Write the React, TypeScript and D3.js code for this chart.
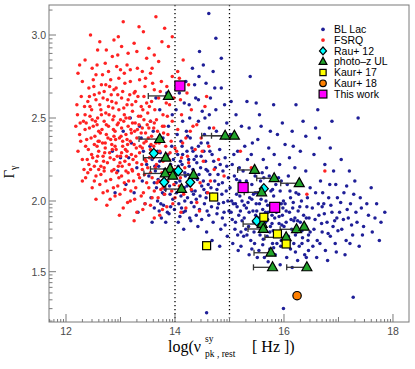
import React from 'react';
import * as d3 from 'd3';

// ---------- data (x = log nu_pk, y = Gamma) ----------
const fsrq: [number, number][] = [
  [13.05,3.08],[13.42,3.02],[12.88,2.97],[13.65,3.11],[12.62,2.96],[13.25,2.95],[13.95,2.99],[12.45,3.00],
  [12.35,2.85],[12.58,2.91],[12.72,2.83],[12.95,2.88],[13.12,2.82],[13.30,2.90],[13.48,2.86],[13.70,2.84],[13.88,2.93],[12.48,2.80],[13.02,2.93],[13.58,2.80],[12.85,2.87],[14.15,2.85],[12.25,2.82],
  [12.30,2.72],[12.42,2.68],[12.55,2.76],[12.65,2.70],[12.78,2.78],[12.88,2.67],[12.97,2.74],[13.08,2.71],[13.18,2.79],[13.27,2.66],[13.35,2.73],[13.45,2.69],[13.55,2.77],[13.62,2.67],[13.75,2.72],[13.85,2.69],[12.22,2.77],[12.70,2.66],[13.00,2.79],[13.40,2.78],[12.50,2.73],[13.95,2.75],[14.05,2.78],[14.25,2.70],[12.82,2.73],
  [12.20,2.58],[12.28,2.63],[12.35,2.52],[12.40,2.60],[12.47,2.55],[12.52,2.64],[12.58,2.50],[12.62,2.58],[12.68,2.62],[12.73,2.53],[12.78,2.57],[12.83,2.64],[12.88,2.51],[12.92,2.59],[12.97,2.55],[13.02,2.62],[13.07,2.52],[13.12,2.58],[13.17,2.64],[13.22,2.54],[13.28,2.60],[13.33,2.51],[13.38,2.57],[13.43,2.63],[13.50,2.53],[13.57,2.60],[13.63,2.55],[13.70,2.62],[13.78,2.52],[13.90,2.58],[14.10,2.61],[14.30,2.55],[12.55,2.61],[12.95,2.64],[13.25,2.65],[12.65,2.52],[13.48,2.59],[13.10,2.50],[12.44,2.51],[14.55,2.57],
  [12.18,2.45],[12.25,2.40],[12.32,2.48],[12.38,2.37],[12.43,2.44],[12.48,2.49],[12.53,2.39],[12.57,2.46],[12.61,2.36],[12.66,2.43],[12.70,2.48],[12.74,2.40],[12.78,2.45],[12.82,2.37],[12.86,2.49],[12.90,2.42],[12.94,2.46],[12.98,2.38],[13.02,2.44],[13.06,2.48],[13.10,2.40],[13.14,2.45],[13.18,2.36],[13.22,2.47],[13.26,2.42],[13.30,2.38],[13.34,2.46],[13.38,2.41],[13.43,2.49],[13.47,2.36],[13.52,2.44],[13.57,2.39],[13.62,2.47],[13.68,2.42],[13.74,2.37],[13.80,2.45],[13.87,2.40],[13.95,2.48],[14.05,2.43],[14.20,2.38],[12.60,2.42],[12.88,2.39],[13.00,2.49],[13.20,2.41],[13.40,2.44],[12.72,2.35],[13.55,2.48],[12.50,2.45],[13.12,2.37],[12.35,2.43],[14.40,2.46],[13.65,2.35],
  [12.22,2.30],[12.30,2.25],[12.36,2.33],[12.42,2.22],[12.47,2.28],[12.52,2.34],[12.56,2.24],[12.60,2.30],[12.64,2.21],[12.68,2.27],[12.72,2.32],[12.76,2.23],[12.80,2.29],[12.84,2.34],[12.88,2.25],[12.92,2.31],[12.96,2.21],[13.00,2.27],[13.04,2.33],[13.08,2.24],[13.12,2.30],[13.16,2.22],[13.20,2.28],[13.25,2.34],[13.30,2.23],[13.35,2.29],[13.40,2.32],[13.45,2.25],[13.50,2.20],[13.55,2.31],[13.60,2.26],[13.66,2.22],[13.72,2.30],[13.78,2.24],[13.85,2.28],[13.92,2.21],[14.00,2.32],[14.12,2.26],[14.25,2.23],[12.70,2.20],[13.02,2.29],[13.28,2.27],[12.58,2.27],[12.90,2.33],[14.50,2.30],
  [12.30,2.12],[12.40,2.17],[12.48,2.08],[12.55,2.15],[12.62,2.10],[12.70,2.18],[12.76,2.06],[12.82,2.13],[12.88,2.19],[12.95,2.09],[13.02,2.15],[13.08,2.07],[13.15,2.12],[13.22,2.18],[13.28,2.08],[13.35,2.14],[13.42,2.05],[13.48,2.11],[13.55,2.17],[13.62,2.06],[13.70,2.12],[13.78,2.08],[13.88,2.16],[13.98,2.10],[14.10,2.14],[14.30,2.07],[12.60,2.19],[13.10,2.18],[13.40,2.19],[14.65,2.12],
  [12.55,2.01],[12.75,1.97],[12.90,2.03],[13.05,1.95],[13.18,2.00],[13.30,1.92],[13.45,1.98],[13.58,2.02],[13.72,1.90],[13.85,1.96],[14.00,2.02],[13.25,1.86],[13.62,1.88],[12.98,1.90],[14.20,1.95],
  [14.80,2.25],[15.00,2.38],[14.60,2.05],[15.40,2.20],[14.90,2.15],[16.42,2.04],[15.20,2.30],[14.72,2.19],[14.40,1.99],[14.45,1.93],[16.75,2.18],
  [12.63,2.41],[12.71,2.29],[12.79,2.52],[12.84,2.18],[12.91,2.37],[12.99,2.23],[13.06,2.56],[13.13,2.34],[13.21,2.19],[13.27,2.47],[13.36,2.33],[13.44,2.16],[13.51,2.38],[13.59,2.27],[12.67,2.35],[12.74,2.46],[12.81,2.26],[12.87,2.43],[12.93,2.17],[13.01,2.39],[13.09,2.31],[13.16,2.50],[13.23,2.25],[13.31,2.43],[13.39,2.22],[13.46,2.41],[13.53,2.26],[13.61,2.44],[13.67,2.29],[12.57,2.33],[12.52,2.21],[12.46,2.38],[12.41,2.31],[12.37,2.47],[12.33,2.19],[12.44,2.57],[12.54,2.48],[12.64,2.55],[12.76,2.61],[12.86,2.56],[12.96,2.47],[13.04,2.36],[13.11,2.27],[13.19,2.43],[13.29,2.32],[13.37,2.51],[13.43,2.35],[13.49,2.46],[13.56,2.34],[13.64,2.20],[13.71,2.35],[13.77,2.45],[13.83,2.33],[13.89,2.25],[13.76,2.17],[13.67,2.11],[13.58,2.14],[13.47,2.24],[13.33,2.16],[13.24,2.12],[13.14,2.17],[13.03,2.21],[12.94,2.27],[12.85,2.31],[12.77,2.38],[12.69,2.24],[12.59,2.36],[12.49,2.26],[12.39,2.25],[12.27,2.36],[12.21,2.52],[12.26,2.47],[12.34,2.57],[12.43,2.63],[12.51,2.69],[12.61,2.65],[12.73,2.70],[12.84,2.60],[12.92,2.68],[13.04,2.66],[13.14,2.61],[13.21,2.58],[13.32,2.63],[13.41,2.55],[13.53,2.57],[13.66,2.49],[13.79,2.41],[13.93,2.36],[14.03,2.30],[14.14,2.35],[13.99,2.19],[13.87,2.12],[13.81,2.04],[13.69,2.02],[13.52,2.08],[13.38,2.03],[13.19,2.06],[13.07,2.11],[12.97,2.14],[12.87,2.08],[12.73,2.12],[12.64,2.16],[12.52,2.12],[12.45,2.19],[12.36,2.14],[12.68,2.05],[12.81,2.01],[12.99,2.04],[13.13,1.99],[13.26,2.01],[13.41,1.94],[13.55,1.97],[13.77,1.94],[13.94,2.06],[14.08,2.09],[14.18,2.20],[14.35,2.16],[14.28,2.42],[14.12,2.52],[13.98,2.62],[13.84,2.59],[13.73,2.66],[13.59,2.71],[13.46,2.74],[13.31,2.80],[13.18,2.72],[13.07,2.77],[12.93,2.81],[12.80,2.69],[12.67,2.76],[12.57,2.82],[13.52,2.92],[13.76,2.96],[13.14,2.89],[12.96,2.99],[13.34,3.05],[13.81,3.04],[13.62,2.88],[12.74,2.91],
  [13.91,2.29],[14.04,2.17],[14.16,2.04],[14.23,2.27],[14.37,2.31],[14.46,2.11],[14.52,2.24],[13.96,1.98],[14.11,1.92],[14.27,2.12],[14.33,2.45],[14.48,2.38],[14.62,2.33],[14.71,2.44],[14.58,2.63],[14.22,2.65],[14.08,2.74],[13.74,2.07],[13.61,2.33],[13.86,2.51],
];

const blLac: [number, number][] = [
  [12.85,2.30],[12.95,2.18],[13.05,2.42],[13.10,2.10],[13.15,2.26],[13.20,2.35],[13.25,2.05],[13.30,2.20],[13.35,2.45],[13.40,2.12],[13.42,2.30],[13.45,1.98],[13.48,2.22],[12.90,2.05],[13.00,2.26],[13.32,1.92],[13.18,2.50],[13.38,2.38],
  [13.52,2.15],[13.54,2.33],[13.56,2.02],[13.58,2.25],[13.60,2.42],[13.62,1.95],[13.64,2.18],[13.66,2.08],[13.68,2.30],[13.70,2.21],[13.72,2.55],[13.74,1.98],[13.76,2.12],[13.78,2.38],[13.80,2.04],[13.82,2.27],[13.84,2.16],[13.86,1.92],[13.88,2.45],[13.90,2.09],[13.92,2.22],[13.94,2.33],[13.96,2.01],[13.98,2.14],[13.55,2.48],[13.65,2.62],[13.75,1.88],[13.85,2.65],[13.95,2.52],[13.72,2.24],[13.62,2.11],[13.82,2.07],[13.92,1.96],[13.68,2.00],[13.58,1.85],
  [14.01,2.18],[14.03,2.05],[14.05,2.28],[14.07,1.98],[14.09,2.12],[14.11,2.36],[14.13,2.22],[14.15,1.92],[14.17,2.08],[14.19,2.15],[14.21,2.42],[14.23,2.02],[14.25,2.25],[14.27,1.88],[14.29,2.11],[14.31,2.32],[14.33,2.19],[14.35,1.96],[14.37,2.06],[14.39,2.27],[14.41,2.13],[14.43,2.48],[14.45,1.94],[14.47,2.20],[14.49,2.09],[14.02,2.55],[14.08,2.65],[14.14,2.48],[14.20,2.72],[14.26,2.58],[14.32,2.80],[14.38,2.62],[14.44,2.75],[14.48,2.35],[14.06,1.85],[14.16,1.80],[14.24,2.16],[14.34,2.04],[14.42,1.82],[14.10,2.24],[14.18,2.00],[14.28,2.38],[14.36,2.14],[14.46,2.03],[14.04,2.40],[14.12,1.95],[14.22,2.30],[14.30,1.99],[14.40,2.23],[14.50,2.54],
  [14.52,2.12],[14.54,1.98],[14.56,2.24],[14.58,2.05],[14.60,2.35],[14.62,1.90],[14.64,2.16],[14.66,2.08],[14.68,2.28],[14.70,1.85],[14.72,2.01],[14.74,2.20],[14.76,2.42],[14.78,1.95],[14.80,2.10],[14.82,2.31],[14.84,1.80],[14.86,2.04],[14.88,2.18],[14.90,1.92],[14.92,2.26],[14.94,2.06],[14.96,1.75],[14.98,2.14],[14.55,2.50],[14.65,2.62],[14.75,2.55],[14.85,2.68],[14.95,2.47],[14.62,3.13],[14.75,2.98],[14.45,2.90],[14.85,2.86],[14.70,2.78],[14.58,1.78],[14.68,1.72],[14.82,1.68],[14.92,1.83],[14.53,2.30],[14.63,2.44],[14.73,2.12],[14.83,2.22],[14.93,2.38],[14.57,2.02],[14.67,1.96],[14.77,2.07],[14.87,1.88],[14.97,2.00],[14.60,2.18],[14.80,1.98],
  [15.01,2.08],[15.03,1.92],[15.05,2.22],[15.07,1.98],[15.09,2.15],[15.11,1.85],[15.13,2.04],[15.15,2.30],[15.17,1.90],[15.19,2.12],[15.21,1.78],[15.23,2.00],[15.25,2.18],[15.27,1.88],[15.29,2.06],[15.31,1.95],[15.33,2.25],[15.35,1.82],[15.37,2.02],[15.39,1.72],[15.41,2.10],[15.43,1.93],[15.45,1.85],[15.47,2.15],[15.49,1.98],[15.02,2.40],[15.12,2.52],[15.22,2.45],[15.32,2.60],[15.42,2.35],[15.49,2.59],[15.38,2.75],[15.06,1.70],[15.16,1.65],[15.26,1.75],[15.36,1.62],[15.46,1.70],[15.04,2.00],[15.14,1.96],[15.24,2.09],[15.34,1.99],[15.44,2.04],[15.08,2.28],[15.18,2.20],[15.28,2.33],[15.40,2.28],[15.20,1.93],[15.30,1.80],[15.10,1.80],[15.48,1.90],
  [15.51,2.05],[15.53,1.88],[15.55,1.98],[15.57,2.12],[15.59,1.80],[15.61,1.94],[15.63,2.08],[15.65,1.85],[15.67,2.00],[15.69,1.75],[15.71,1.92],[15.73,2.15],[15.75,1.82],[15.77,1.97],[15.79,1.70],[15.81,2.03],[15.83,1.88],[15.85,2.10],[15.87,1.78],[15.89,1.95],[15.91,1.84],[15.93,2.06],[15.95,1.72],[15.97,1.90],[15.99,2.00],[15.52,2.37],[15.62,2.25],[15.72,2.32],[15.82,2.28],[15.92,2.22],[15.58,2.45],[15.88,2.40],[15.54,1.65],[15.64,1.60],[15.74,1.66],[15.84,1.62],[15.94,1.68],[15.56,1.76],[15.66,1.92],[15.76,2.06],[15.86,1.92],[15.96,1.83],[15.60,2.17],[15.70,1.87],[15.80,1.79],[15.90,2.14],[15.68,2.20],[15.78,1.90],[15.98,1.95],[15.99,1.24],
  [16.02,1.98],[16.04,1.85],[16.06,2.10],[16.08,1.75],[16.10,1.92],[16.12,2.02],[16.14,1.80],[16.16,1.95],[16.18,1.70],[16.20,1.88],[16.22,2.05],[16.24,1.78],[16.26,1.93],[16.28,1.68],[16.30,1.85],[16.32,2.00],[16.34,1.74],[16.36,1.90],[16.38,1.62],[16.40,1.82],[16.42,1.96],[16.44,1.72],[16.46,1.88],[16.48,2.08],[16.02,2.34],[16.10,2.26],[16.20,2.20],[16.30,2.30],[16.40,2.18],[16.15,2.42],[16.35,2.48],[16.05,1.60],[16.25,1.58],[16.45,1.65],[16.12,1.66],[16.33,1.79],[16.08,2.15],[16.28,2.12],[16.48,1.78],[16.18,1.86],
  [16.52,1.95],[16.55,1.80],[16.58,2.05],[16.61,1.72],[16.64,1.90],[16.67,2.12],[16.70,1.78],[16.73,1.98],[16.76,1.65],[16.79,1.85],[16.82,2.02],[16.85,1.75],[16.88,1.92],[16.91,2.18],[16.94,1.70],[16.97,1.88],[16.55,2.28],[16.65,2.38],[16.75,2.22],[16.85,2.32],[16.95,2.10],[16.60,1.60],[16.80,1.58],[16.70,1.96],[16.90,1.82],[16.62,2.55],[16.88,2.48],[16.53,1.68],
  [17.02,1.92],[17.06,1.80],[17.10,2.05],[17.14,1.72],[17.18,1.88],[17.22,1.98],[17.26,1.76],[17.30,2.12],[17.34,1.85],[17.38,1.68],[17.42,1.95],[17.46,1.82],[17.05,2.25],[17.20,2.18],[17.36,2.50],[17.27,1.32],[17.12,1.62],[17.40,2.02],
  [17.55,1.90],[17.62,1.78],[17.70,1.98],[17.78,1.85],[17.85,1.92],[17.60,2.08],[17.75,1.72],
  [14.58,1.21],
  [13.63,2.21],[13.69,2.13],[13.73,2.29],[13.77,2.05],[13.81,2.19],[13.87,2.28],[13.91,2.04],[13.97,2.25],[14.02,2.11],[14.06,2.21],[14.11,2.03],[14.14,2.28],[14.18,2.17],[14.22,2.09],[14.26,2.21],[14.31,2.06],[14.35,2.25],[14.39,2.01],[14.44,2.16],[14.48,2.27],[14.53,2.07],[14.57,2.19],[14.61,2.10],[13.79,1.97],[13.89,1.91],[13.99,1.94],[14.09,1.89],[14.19,1.93],[14.29,1.86],[14.39,1.90],[14.49,1.87],[14.59,1.93],[13.71,1.93],[13.83,1.85],[14.13,2.33],[14.23,2.39],[14.33,2.30],[14.43,2.33],[14.54,2.40],[14.64,2.30],[14.71,2.24],[14.79,2.16],[14.87,2.11],[14.95,2.21],[14.69,2.04],[14.77,1.91],[14.89,1.99],[14.99,1.93],[14.63,2.52],[14.43,2.61],[14.27,2.50],[14.17,2.59],[14.57,2.71],[14.73,2.68],[14.91,2.58],[15.03,2.60],[14.52,2.82],[14.36,2.70],
  [15.05,1.87],[15.11,1.98],[15.15,1.76],[15.19,2.03],[15.23,1.86],[15.27,1.97],[15.32,1.76],[15.36,1.92],[15.41,2.01],[15.45,1.78],[15.50,1.93],[15.54,1.83],[15.58,2.01],[15.62,1.73],[15.66,1.85],[15.70,1.97],[15.74,1.78],[15.78,1.84],[15.83,1.95],[15.87,1.70],[15.91,1.89],[15.95,1.98],[16.00,1.82],[16.04,1.93],[16.09,1.71],[16.13,1.87],[16.17,1.99],[16.21,1.76],[16.25,1.86],[16.29,1.96],[16.33,1.70],[16.37,1.83],[16.41,1.88],[16.45,1.76],[15.13,2.13],[15.31,2.12],[15.47,2.05],[15.63,2.14],[15.79,2.07],[15.95,2.12],[16.11,2.06],[16.27,2.04],[16.43,2.02],[15.21,1.68],[15.41,1.66],[15.61,1.69],[15.81,1.67],[16.01,1.71],[16.21,1.64],[16.41,1.60],[15.71,1.57],[15.93,1.55],[16.15,1.53],[15.51,1.60],
  [16.57,1.87],[16.63,1.98],[16.69,1.84],[16.74,1.91],[16.81,1.77],[16.86,1.97],[16.93,1.86],[16.99,1.79],[17.04,1.99],[17.09,1.87],[17.16,1.94],[17.24,1.83],[17.32,1.92],[17.44,1.76],[17.52,1.98],[17.67,1.88],[16.71,2.05],[16.84,2.10],[16.98,2.02],[17.15,2.09],[17.28,2.04],[16.66,1.70],[16.96,1.64],[17.21,1.70],
  [15.36,2.44],[15.55,2.52],[15.75,2.42],[15.97,2.47],[16.17,2.33],[16.40,2.39],[16.58,2.44],[16.22,2.58],[15.81,2.58],
];

// Rau+ 12 [x, Gamma]
const rau12: [number, number][] = [
  [13.61,2.287],[14.06,2.181],[13.80,2.113],[14.28,2.113],[15.63,2.074],[15.50,1.859],
];

// photo-z UL [x, xLow (or null), Gamma]
const photozUL: [number, number | null, number][] = [
  [13.88,13.51,2.633],[13.72,13.34,2.373],[14.92,14.49,2.393],[15.09,14.67,2.393],
  [13.83,13.42,2.261],[13.91,13.55,2.193],[13.82,13.43,2.166],[13.96,null,2.152],
  [14.34,14.03,2.157],[14.12,13.83,2.072],[15.46,15.15,2.187],[15.82,15.50,2.137],
  [16.28,15.94,2.107],[15.59,15.27,2.052],[15.60,15.25,1.837],[15.62,15.34,1.802],
  [16.23,15.93,1.80],[16.37,null,1.818],[16.04,15.65,1.743],[15.76,15.45,1.634],
  [15.79,15.44,1.531],[16.42,16.05,1.531],
];

// Kaur+ 17 [x, Gamma]
const kaur17: [number, number][] = [
  [14.71,2.024],[15.63,1.885],[15.88,1.767],[16.04,1.696],[14.58,1.684],
];

// Kaur+ 18 [x, Gamma]
const kaur18: [number, number][] = [[16.24,1.33]];

// This work [x, Gamma]
const thisWork: [number, number][] = [
  [14.09,2.693],[15.25,2.081],[15.83,1.955],
];

const xTickLabels = [12, 14, 16, 18];
const yTickLabels = [1.5, 2.0, 2.5, 3.0];
const legendLabels = ['BL Lac', 'FSRQ', 'Rau+ 12', 'photo\u2013z UL', 'Kaur+ 17', 'Kaur+ 18', 'This work'];

// ---------- layout ----------
const W = 415, H = 369;
const L = 49, R = 409, T = 5, B = 322;

const x = d3.scaleLinear().domain([11.688, 18.294]).range([L, R]);
const y = d3.scaleLinear()
  .domain([1.144, 1.5, 2.0, 2.5, 3.0, 3.181])
  .range([B, 271.7, 201, 118, 35, T]);

const BLUE = '#1f1f98';
const RED = '#ff2222';
const GREEN = '#22a52a';
const CYAN = '#00ffff';
const YELLOW = '#ffff00';
const ORANGE = '#ff8000';
const MAGENTA = '#ff00ff';
const AXIS = '#7a7a7a';
const LABEL = '#4a4a4a';

const triPath = (cx: number, cy: number, w: number) => {
  const h = w * 0.9;
  return `M${cx},${cy - h * 0.62}L${cx + w / 2},${cy + h * 0.38}L${cx - w / 2},${cy + h * 0.38}Z`;
};
const diaPath = (cx: number, cy: number, r: number) =>
  `M${cx},${cy - r}L${cx + r * 0.9},${cy}L${cx},${cy + r}L${cx - r * 0.9},${cy}Z`;

function Marker({ kind, cx, cy, s = 1 }: { kind: string; cx: number; cy: number; s?: number }) {
  const sw = 1.2;
  switch (kind) {
    case 'bl':
      return <circle cx={cx} cy={cy} r={2.4 * s} fill={BLUE} />;
    case 'fs':
      return <circle cx={cx} cy={cy} r={2.4 * s} fill={RED} />;
    case 'rau':
      return <path d={diaPath(cx, cy, 5 * s)} fill={CYAN} stroke="#000" strokeWidth={sw} />;
    case 'pz':
      return <path d={triPath(cx, cy, 10 * s)} fill={GREEN} stroke="#000" strokeWidth={sw} />;
    case 'k17':
      return <rect x={cx - 4 * s} y={cy - 4 * s} width={8 * s} height={8 * s} fill={YELLOW} stroke="#000" strokeWidth={sw} />;
    case 'k18':
      return <circle cx={cx} cy={cy} r={4.2 * s} fill={ORANGE} stroke="#000" strokeWidth={sw} />;
    case 'tw':
      return <rect x={cx - 5 * s} y={cy - 5 * s} width={10 * s} height={10 * s} fill={MAGENTA} stroke="#000" strokeWidth={sw} />;
    default:
      return null;
  }
}

export default function App() {
  const xMajor: number[] = d3.range(12, 19);
  const xMinor: number[] = [];
  for (let n = 11; n <= 18; n++) {
    for (let k = 2; k <= 9; k++) {
      const v = n + Math.log10(k);
      if (v > 11.688 && v < 18.294) xMinor.push(v);
    }
  }
  const yMinor: number[] = [];
  for (const m of [1.0, 1.5, 2.0, 2.5, 3.0]) {
    for (let k = 2; k <= 9; k++) {
      const v = m + 0.5 * Math.log10(k);
      if (v > 1.144 && v < 3.181) yMinor.push(v);
    }
  }

  const legendKinds = ['bl', 'fs', 'rau', 'pz', 'k17', 'k18', 'tw'];

  return (
    <svg width={W} height={H} style={{ position: 'fixed', left: 0, top: 0, background: '#fff' }}
      fontFamily="'Liberation Sans', Arial, sans-serif">
      <rect x={0} y={0} width={W} height={H} fill="#fff" />

      <g>
        {blLac.map((d, i) => <circle key={'b' + i} cx={x(d[0])} cy={y(d[1])} r={1.75} fill={BLUE} />)}
        {fsrq.map((d, i) => <circle key={'r' + i} cx={x(d[0])} cy={y(d[1])} r={1.75} fill={RED} />)}
      </g>

      {[14, 15].map((v) => (
        <line key={'v' + v} x1={x(v)} x2={x(v)} y1={T} y2={B} stroke="#000" strokeWidth={1.3} strokeDasharray="1.3,2.7" />
      ))}

      {photozUL.filter((d) => d[1] !== null).map((d, i) => {
        const yy = y(d[2]);
        const x0 = x(d[1] as number);
        return (
          <g key={'e' + i} stroke="#333" strokeWidth={1.3}>
            <line x1={x0} x2={x(d[0])} y1={yy} y2={yy} />
            <line x1={x0} x2={x0} y1={yy - 3} y2={yy + 3} />
          </g>
        );
      })}

      {rau12.map((d, i) => <Marker key={'ra' + i} kind="rau" cx={x(d[0])} cy={y(d[1])} />)}
      {photozUL.map((d, i) => <Marker key={'pz' + i} kind="pz" cx={x(d[0])} cy={y(d[2])} />)}
      {kaur17.map((d, i) => <Marker key={'k7' + i} kind="k17" cx={x(d[0])} cy={y(d[1])} />)}
      {kaur18.map((d, i) => <Marker key={'k8' + i} kind="k18" cx={x(d[0])} cy={y(d[1])} />)}
      {thisWork.map((d, i) => <Marker key={'tw' + i} kind="tw" cx={x(d[0])} cy={y(d[1])} />)}

      <rect x={L} y={T} width={R - L} height={B - T} fill="none" stroke={AXIS} strokeWidth={1} />

      <g stroke={AXIS} strokeWidth={1}>
        {xMajor.map((v) => (
          <line key={'xm' + v} x1={x(v)} x2={x(v)} y1={B} y2={B - (v % 2 === 0 ? 8 : 5)} />
        ))}
        {xMinor.map((v, i) => (
          <line key={'xn' + i} x1={x(v)} x2={x(v)} y1={B} y2={B - 3} />
        ))}
      </g>
      {xTickLabels.map((v) => (
        <text key={'xl' + v} x={x(v)} y={335} textAnchor="middle" fontSize={10.5} fill={LABEL}>{v}</text>
      ))}

      <g stroke={AXIS} strokeWidth={1}>
        {yTickLabels.map((v) => (
          <line key={'ym' + v} x1={L} x2={L + 7} y1={y(v)} y2={y(v)} />
        ))}
        {yMinor.map((v, i) => (
          <line key={'yn' + i} x1={L} x2={L + 3.5} y1={y(v)} y2={y(v)} />
        ))}
      </g>
      {yTickLabels.map((v) => (
        <text key={'yl' + v} x={L - 3} y={y(v) + 3.8} textAnchor="end" fontSize={10.5} fill={LABEL}>{v.toFixed(1)}</text>
      ))}

      <g fontFamily="'Liberation Serif', 'Times New Roman', serif" fill="#000">
        <text x={168} y={352} fontSize={16}>log(ν</text>
        <text x={205} y={342} fontSize={9.5}>sy</text>
        <text x={205} y={357} fontSize={9.5}>pk , rest</text>
        <text x={252} y={352} fontSize={16}>[ Hz ])</text>
        <text transform="translate(14,172) rotate(-90)" textAnchor="middle" fontSize={15}>
          Γ<tspan fontSize={10} dy={3}>γ</tspan>
        </text>
      </g>

      {legendLabels.map((lab, i) => {
        const yy = 29.3 + i * 10.8;
        return (
          <g key={'lg' + i}>
            <Marker kind={legendKinds[i]} cx={323} cy={yy} s={0.78} />
            <text x={334} y={yy + 3.7} fontSize={10.5} fill="#000">{lab}</text>
          </g>
        );
      })}
    </svg>
  );
}
